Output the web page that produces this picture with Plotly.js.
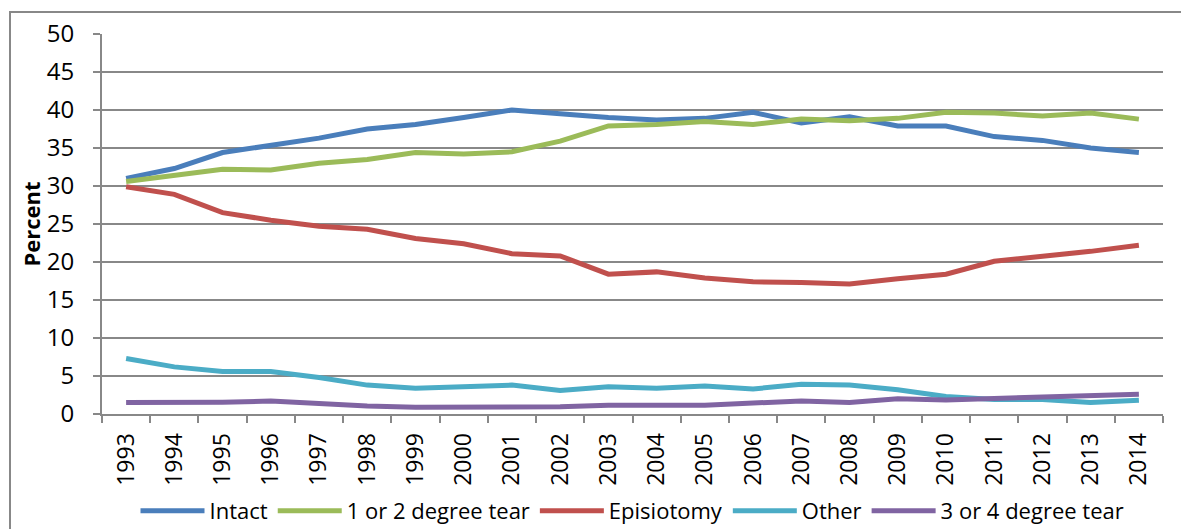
<!DOCTYPE html>
<html>
<head>
<meta charset="utf-8">
<script src="https://cdn.plot.ly/plotly-3.0.1.min.js"></script>
<style>html,body{margin:0;padding:0;background:#fff;}#chart{width:1181px;height:529px;}</style>
</head>
<body>
<div id="chart"></div>
<script>
const years = ["1993","1994","1995","1996","1997","1998","1999","2000","2001","2002","2003","2004","2005","2006","2007","2008","2009","2010","2011","2012","2013","2014"];
const intact =      [31.0,32.3,34.4,35.3,36.3,37.5,38.1,39.0,40.0,39.5,39.0,38.7,38.9,39.7,38.3,39.1,37.9,37.9,36.5,36.0,35.0,34.4];
const tear12 =      [30.6,31.4,32.2,32.1,33.0,33.5,34.4,34.2,34.5,35.9,37.9,38.1,38.5,38.1,38.8,38.6,38.9,39.7,39.6,39.2,39.6,38.8];
const episiotomy =  [29.9,28.9,26.5,25.5,24.7,24.3,23.1,22.4,21.1,20.8,18.4,18.7,17.9,17.4,17.3,17.1,17.8,18.4,20.1,20.7,21.4,22.2];
const other =       [7.3,6.2,5.6,5.6,4.8,3.8,3.4,3.6,3.8,3.1,3.6,3.4,3.7,3.3,3.9,3.8,3.2,2.3,1.9,1.9,1.5,1.8];
const tear34 =      [1.5,1.5,1.55,1.7,1.3,1.05,0.9,0.9,0.8,0.95,1.15,1.2,1.15,1.45,1.7,1.5,2.0,1.85,2.0,2.2,2.4,2.6];

const names = ["Intact","1 or 2 degree tear","Episiotomy","Other","3 or 4 degree tear"];
const series = [intact, tear12, episiotomy, other, tear34];
const colors = ["#4A7EBB","#9BBB59","#C0504D","#4BACC6","#8064A2"];

const traces = series.map((s,i)=>({
  x: years, y: s, name: names[i], type: "scatter", mode: "lines",
  line: {color: colors[i], width: 5}
}));

const FONT = "Open Sans, Liberation Sans, sans-serif";
const layout = {
  width: 1181, height: 529,
  margin: {l: 102, r: 18, t: 34, b: 115, autoexpand: false},
  paper_bgcolor: "#fff", plot_bgcolor: "#fff",
  font: {family: FONT, size: 23, color: "#000"},
  showlegend: true,
  legend: {orientation: "h", x: 0.5, xanchor: "center", y: -0.2, yanchor: "top",
           font: {family: FONT, size: 22, color: "#000"}, itemwidth: 64, tracegroupgap: 0},
  xaxis: {type: "category", range: [-0.5, 21.5], showgrid: false, showline: true, linecolor: "#888", linewidth: 2,
          ticks: "outside", ticklen: 7, tickcolor: "#888", tickwidth: 2, tickson: "boundaries",
          tickangle: -90, tickfont: {family: FONT, size: 23}, ticklabelstandoff: 8,
          automargin: false, fixedrange: true},
  yaxis: {range: [0, 50], dtick: 5, showgrid: true, gridcolor: "#888", gridwidth: 2,
          showline: true, linecolor: "#888", linewidth: 2, ticks: "outside", ticklen: 7,
          tickcolor: "#888", tickwidth: 2, tickfont: {family: FONT, size: 24}, zeroline: false,
          ticklabelstandoff: 14,
          title: {text: "<b>Percent</b>", font: {family: FONT, size: 22}, standoff: 0},
          automargin: false, fixedrange: true},
  shapes: [{type: "rect", xref: "paper", yref: "paper",
            x0: (10-102)/1061, x1: 1.2, y0: -0.5, y1: (414-12)/380,
            line: {color: "#888", width: 2}, fillcolor: "rgba(0,0,0,0)", layer: "below"}]
};
Plotly.newPlot("chart", traces, layout, {displayModeBar: false, staticPlot: true});
</script>
</body>
</html>
